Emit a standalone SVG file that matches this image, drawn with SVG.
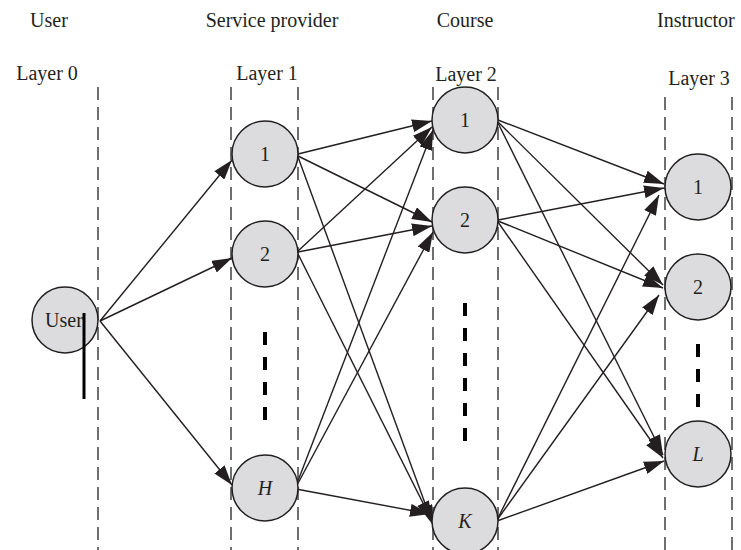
<svg xmlns="http://www.w3.org/2000/svg" width="741" height="550" viewBox="0 0 741 550">
<style>
.t{font-family:"Liberation Serif","Times New Roman",serif;font-size:20px;fill:#231f20}
.c{text-anchor:middle}
.i{font-style:italic}
.g{stroke:#333;stroke-width:1.4;stroke-dasharray:13 7;fill:none}
.n{fill:#dcdcde;stroke:#231f20;stroke-width:1.5}
.e{stroke:#231f20;stroke-width:1.4;fill:none;marker-end:url(#ah)}
.k{stroke:#000;stroke-width:4;stroke-dasharray:13 12;fill:none}
</style>
<defs>
<marker id="ah" markerUnits="userSpaceOnUse" markerWidth="21" markerHeight="13" refX="20" refY="6.5" orient="auto">
<path d="M0,0 L20,6.5 L0,13 z" fill="#231f20"/>
</marker>
</defs>
<rect width="741" height="550" fill="#fff"/>
<g id="headers">
<text class="t c" x="49" y="27">User</text>
<text class="t c" x="272" y="27">Service provider</text>
<text class="t c" x="465" y="27">Course</text>
<text class="t" x="657" y="27">Instructor</text>
<text class="t c" x="47" y="80">Layer 0</text>
<text class="t c" x="267" y="80">Layer 1</text>
<text class="t c" x="466" y="81">Layer 2</text>
<text class="t c" x="699" y="85">Layer 3</text>
</g>
<g id="guides">
<line class="g" x1="98" y1="87" x2="98" y2="550"/>
<line class="g" x1="231" y1="87" x2="231" y2="550"/>
<line class="g" x1="298" y1="87" x2="298" y2="550"/>
<line class="g" x1="433" y1="87" x2="433" y2="550"/>
<line class="g" x1="498" y1="87" x2="498" y2="550"/>
<line class="g" x1="665" y1="97" x2="665" y2="550"/>
<line class="g" x1="732" y1="97" x2="732" y2="550"/>
</g>
<g id="connectors">
<line class="e" x1="100" y1="321" x2="232" y2="160"/>
<line class="e" x1="100" y1="321" x2="232" y2="258"/>
<line class="e" x1="100" y1="321" x2="232" y2="485"/>
<line class="e" x1="298" y1="154" x2="432" y2="121"/>
<line class="e" x1="298" y1="156" x2="432" y2="222"/>
<line class="e" x1="298" y1="157" x2="433" y2="525"/>
<line class="e" x1="298" y1="251" x2="432" y2="127"/>
<line class="e" x1="298" y1="252" x2="432" y2="226"/>
<line class="e" x1="298" y1="254" x2="432" y2="521"/>
<line class="e" x1="296" y1="486" x2="433" y2="130"/>
<line class="e" x1="296" y1="487" x2="433" y2="232"/>
<line class="e" x1="296" y1="489" x2="430" y2="514"/>
<line class="e" x1="498" y1="120" x2="664" y2="184"/>
<line class="e" x1="498" y1="122" x2="663" y2="285"/>
<line class="e" x1="498" y1="123" x2="663" y2="455"/>
<line class="e" x1="498" y1="220" x2="664" y2="188"/>
<line class="e" x1="498" y1="221" x2="663" y2="288"/>
<line class="e" x1="498" y1="222" x2="663" y2="458"/>
<line class="e" x1="497" y1="520" x2="659" y2="195"/>
<line class="e" x1="497" y1="520" x2="659" y2="295"/>
<line class="e" x1="497" y1="521" x2="664" y2="461"/>
</g>
<g id="node-user">
<circle class="n" cx="65" cy="320" r="33"/>
<text class="t c" x="64" y="327">User</text>
</g>
<g id="node-l1-1">
<circle class="n" cx="265" cy="154" r="33"/>
<text class="t c" x="265" y="161">1</text>
</g>
<g id="node-l1-2">
<circle class="n" cx="265" cy="254" r="33"/>
<text class="t c" x="265" y="261">2</text>
</g>
<g id="node-l1-h">
<circle class="n" cx="265" cy="488" r="33"/>
<text class="t c i" x="265" y="495">H</text>
</g>
<g id="node-l2-1">
<circle class="n" cx="465" cy="120" r="33"/>
<text class="t c" x="465" y="127">1</text>
</g>
<g id="node-l2-2">
<circle class="n" cx="465" cy="220" r="33"/>
<text class="t c" x="465" y="227">2</text>
</g>
<g id="node-l2-k">
<circle class="n" cx="465" cy="521" r="33"/>
<text class="t c i" x="465" y="528">K</text>
</g>
<g id="node-l3-1">
<circle class="n" cx="698" cy="187" r="33"/>
<text class="t c" x="698" y="194">1</text>
</g>
<g id="node-l3-2">
<circle class="n" cx="698" cy="287" r="33"/>
<text class="t c" x="698" y="294">2</text>
</g>
<g id="node-l3-l">
<circle class="n" cx="698" cy="454" r="33"/>
<text class="t c i" x="698" y="461">L</text>
</g>
<g id="ellipses">
<line class="k" x1="265" y1="332" x2="265" y2="422" stroke-dasharray="13 12.5"/>
<line class="k" x1="465" y1="303" x2="465" y2="443" stroke-dasharray="14 11"/>
<line class="k" x1="698" y1="344" x2="698" y2="409" stroke-dasharray="13 12"/>
</g>
<line id="user-bar" x1="84" y1="313" x2="84" y2="399" stroke="#000" stroke-width="3"/>
</svg>
